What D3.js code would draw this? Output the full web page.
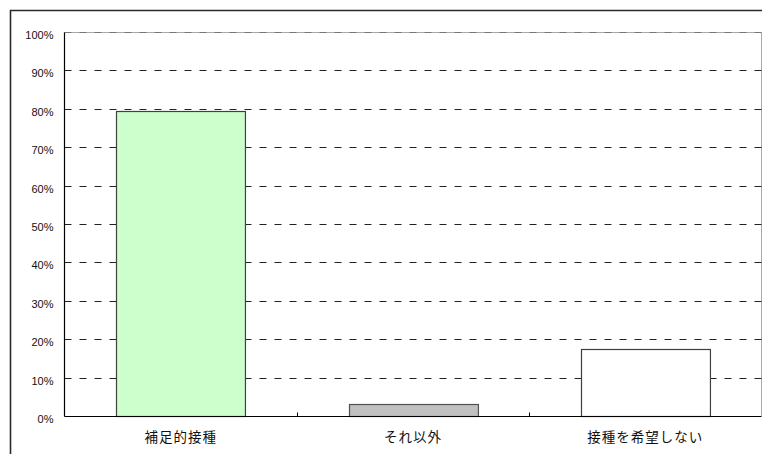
<!DOCTYPE html>
<html>
<head>
<meta charset="utf-8">
<script src="https://cdn.jsdelivr.net/npm/d3@7/dist/d3.min.js"></script>
<style>
  html, body { margin: 0; padding: 0; background: #fff; }
  svg { display: block; }
</style>
</head>
<body>
<svg id="chart" width="762" height="454"></svg>
<script>
// Survey result: share of respondents per vaccination choice
const categories = ["補足的接種", "それ以外", "接種を希望しない"];
const shares = [0.795, 0.033, 0.176];
const barColors = ["#ccffcc", "#c0c0c0", "#ffffff"];
const barStrokes = ["#404040", "#505050", "#404040"];
const yTicks = [0, 0.1, 0.2, 0.3, 0.4, 0.5, 0.6, 0.7, 0.8, 0.9, 1.0];
const yTickLabels = ["0%", "10%", "20%", "30%", "40%", "50%", "60%", "70%", "80%", "90%", "100%"];

const svg = d3.select("#chart");
const plot = { left: 64.5, right: 761.5, top: 32.5, bottom: 416.5 };

// outer frame of the chart area
svg.append("path")
  .attr("d", `M10.5,${454 + 5} V10.5 H${762 + 5}`)
  .attr("fill", "none")
  .attr("stroke", "#2a2a2a")
  .attr("stroke-width", 1.6);

const x = d3.scaleBand()
  .domain(categories)
  .range([plot.left, plot.right])
  .paddingInner(0.445)
  .paddingOuter(0.2225);

const y = d3.scaleLinear()
  .domain([0, 1])
  .range([plot.bottom, plot.top]);

// plot area border (top and right)
svg.append("path")
  .attr("d", `M${plot.left},${plot.top} H${plot.right} V${plot.bottom}`)
  .attr("fill", "none")
  .attr("stroke", "#a8a8a8")
  .attr("stroke-width", 1);

// dashed horizontal gridlines
svg.append("g")
  .selectAll("line")
  .data(yTicks.filter(d => d > 0))
  .join("line")
  .attr("x1", plot.left)
  .attr("x2", plot.right)
  .attr("y1", d => Math.round(y(d) - 0.5) + 0.5)
  .attr("y2", d => Math.round(y(d) - 0.5) + 0.5)
  .attr("stroke", d => d === 1 ? "#777" : "#222")
  .attr("stroke-width", 1)
  .attr("stroke-dasharray", "7,8");

// bars
svg.append("g")
  .selectAll("rect")
  .data(categories)
  .join("rect")
  .attr("x", (d) => Math.round(x(d)) + 0.5)
  .attr("y", (d, i) => Math.round(y(shares[i])) + 0.5)
  .attr("width", x.bandwidth())
  .attr("height", (d, i) => plot.bottom - Math.round(y(shares[i])) - 0.5)
  .attr("fill", (d, i) => barColors[i])
  .attr("stroke", (d, i) => barStrokes[i])
  .attr("stroke-width", 1.2);

// y axis labels
const yAxis = d3.axisLeft(y)
  .tickValues(yTicks)
  .tickFormat((d, i) => yTickLabels[i])
  .tickSize(0)
  .tickPadding(11);

const gy = svg.append("g")
  .attr("transform", `translate(${plot.left},0)`)
  .call(yAxis);
gy.select(".domain").remove();
gy.selectAll("text")
  .attr("dy", "0.55em")
  .attr("fill", "#111")
  .style("font-family", "'Liberation Sans', Arial, sans-serif")
  .style("font-size", "11px");

// axis lines
svg.append("line")
  .attr("x1", plot.left).attr("x2", plot.left)
  .attr("y1", plot.top).attr("y2", plot.bottom)
  .attr("stroke", "#000").attr("stroke-width", 1.2);
svg.append("line")
  .attr("x1", plot.left).attr("x2", plot.right)
  .attr("y1", plot.bottom).attr("y2", plot.bottom)
  .attr("stroke", "#000").attr("stroke-width", 1.2);

// category boundary ticks on x axis
const step = x.step();
const boundaries = categories.slice(1).map(c => x(c) - step * x.paddingInner() / 2);
svg.append("g")
  .selectAll("line")
  .data(boundaries)
  .join("line")
  .attr("x1", d => Math.round(d) + 0.5)
  .attr("x2", d => Math.round(d) + 0.5)
  .attr("y1", plot.bottom)
  .attr("y2", plot.bottom - 4)
  .attr("stroke", "#000");

// category labels
svg.append("g")
  .selectAll("text")
  .data(categories)
  .join("text")
  .attr("x", d => x(d) + x.bandwidth() / 2)
  .attr("y", 442)
  .attr("text-anchor", "middle")
  .attr("fill", "#111")
  .style("font-family", "'Noto Sans CJK JP', sans-serif")
  .style("font-size", "13.5px")
  .style("letter-spacing", "1px")
  .text(d => d);
</script>
</body>
</html>
